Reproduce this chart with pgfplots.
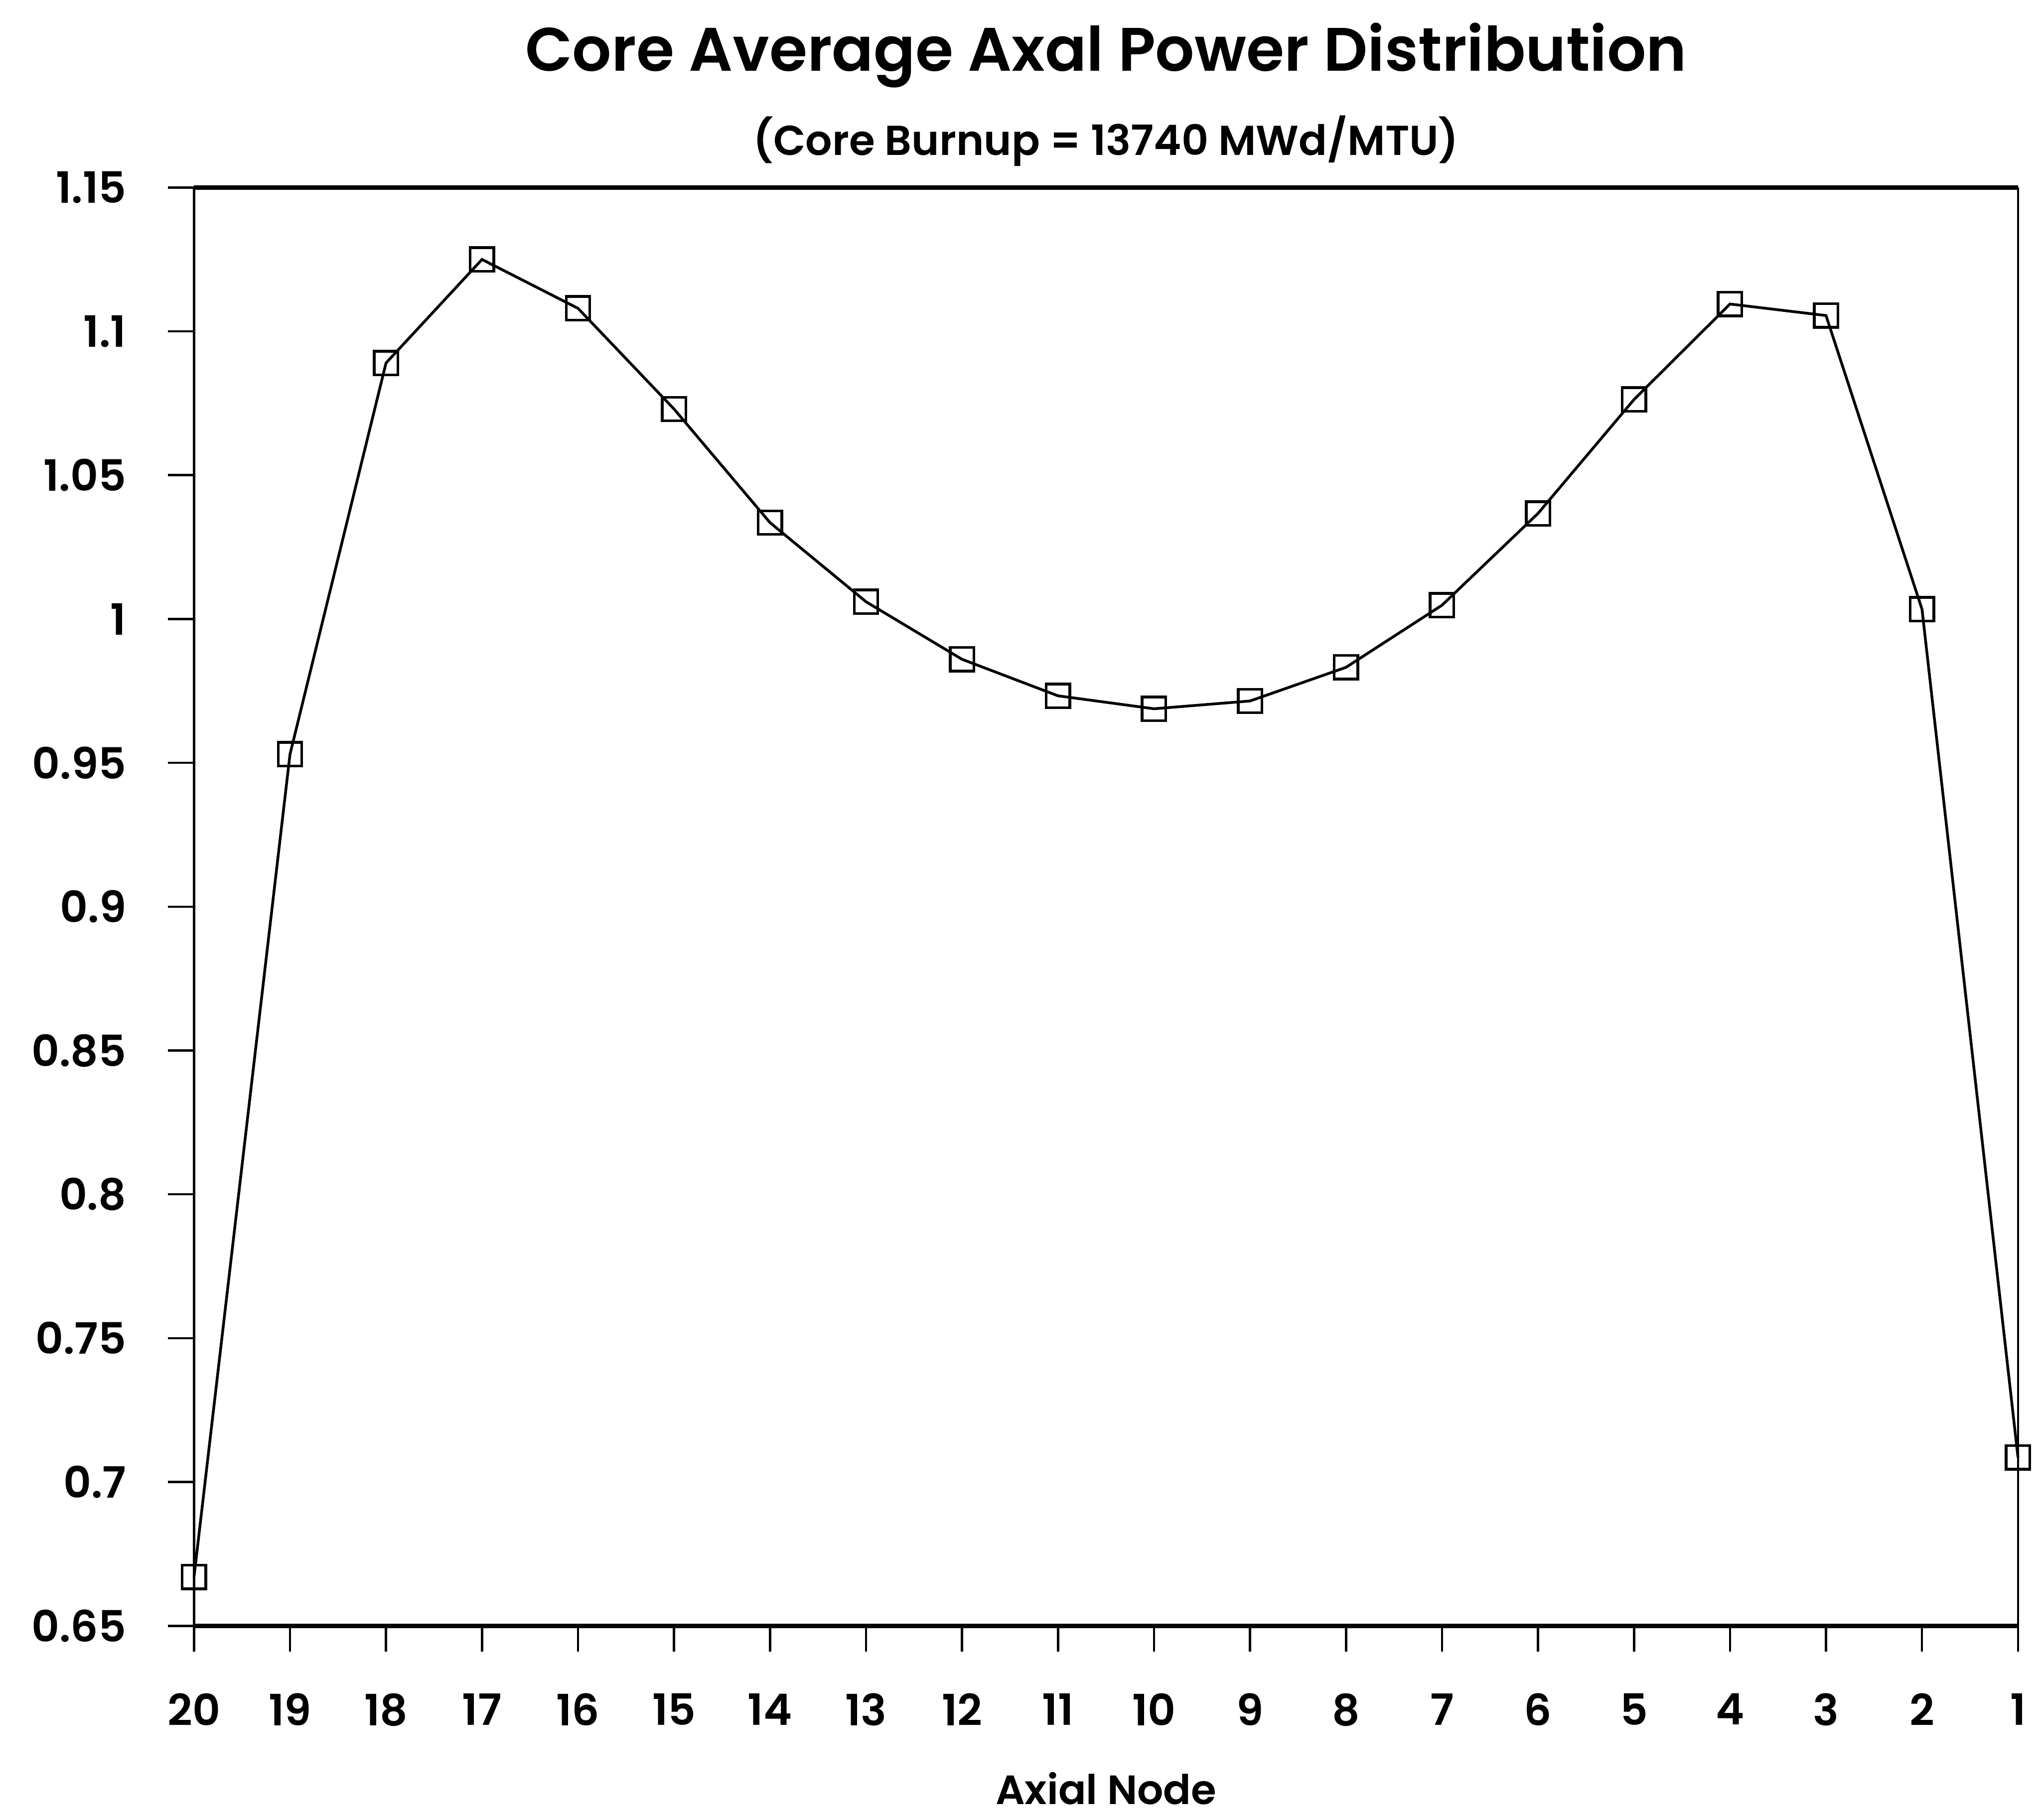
\documentclass[border=0pt]{standalone}
\usepackage{pgfplots}
\pgfplotsset{compat=1.18}
\usepackage{fontspec}
\setmainfont{Poppins}[BoldFont={Poppins SemiBold}]
\begin{document}
\begin{tikzpicture}
\begin{axis}[
  scale only axis,
  width=14.1cm, height=11.12cm,
  xmin=1, xmax=20, ymin=0.65, ymax=1.15,
  x dir=reverse,
  xtick={1,...,20},
  ytick={0.65,0.7,0.75,0.8,0.85,0.9,0.95,1,1.05,1.1,1.15},
  yticklabels={0.65,0.7,0.75,0.8,0.85,0.9,0.95,1,1.05,1.1,1.15},
  /pgf/number format/assume math mode=true,
  tick align=outside,
  xtick pos=bottom, ytick pos=left,
  major tick length=0.2cm,
  tick style={line width=0.5pt, black},
  xticklabel style={font=\fontsize{9.5}{11}\selectfont\bfseries, anchor=north, yshift=-0.2cm},
  yticklabel style={font=\fontsize{9.5}{11}\selectfont\bfseries, anchor=east, xshift=-0.2cm},
  separate axis lines,
  x axis line style={line width=1pt},
  y axis line style={line width=0.5pt},
  clip=false,
]
\addplot[black, line width=0.6pt, mark=square, mark size=2.6pt, mark options={line width=0.6pt}] coordinates {
(20,0.667) (19,0.953) (18,1.089) (17,1.125) (16,1.108) (15,1.073) (14,1.0335)
(13,1.006) (12,0.986) (11,0.9733) (10,0.9688) (9,0.9715) (8,0.9832) (7,1.0048)
(6,1.0367) (5,1.0763) (4,1.1095) (3,1.1055) (2,1.0034) (1,0.7085)
};
\end{axis}
\node[font=\fontsize{13.5}{16}\selectfont\bfseries, anchor=base] at ([yshift=0.9cm]current axis.north) {Core Average Axal Power Distribution};
\node[font=\fontsize{9.2}{11}\selectfont\bfseries, anchor=base] at ([yshift=0.25cm]current axis.north) {(Core Burnup = 13740 MWd/MTU)};
\node[font=\fontsize{9}{11}\selectfont\bfseries, anchor=base] at ([yshift=-1.38cm]current axis.south) {Axial Node};
\path ([xshift=-1.5cm,yshift=-1.48cm]current axis.south west) rectangle ([xshift=0.09cm,yshift=1.45cm]current axis.north east);
\end{tikzpicture}
\end{document}
